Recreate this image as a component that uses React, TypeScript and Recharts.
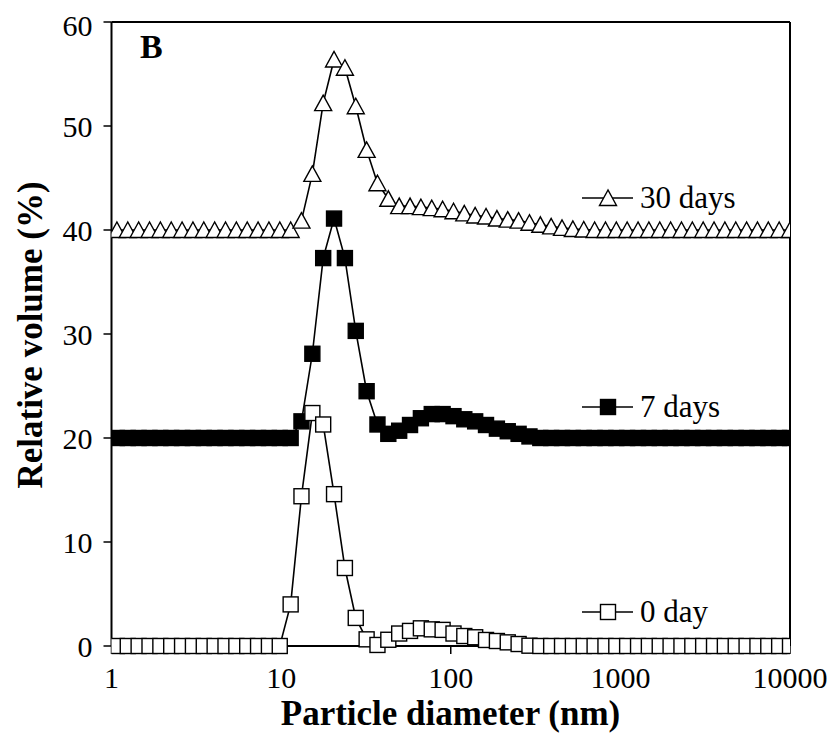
import { LineChart, Line, XAxis, YAxis, ReferenceLine } from 'recharts'

// particle size classes (nm), log spaced
const diameters = [
  1.076, 1.247, 1.445, 1.675, 1.941, 2.249, 2.606, 3.02, 3.499, 4.055,
  4.699, 5.445, 6.31, 7.311, 8.472, 9.817, 11.38, 13.18, 15.28, 17.7,
  20.51, 23.77, 27.54, 31.92, 36.98, 42.85, 49.66, 57.54, 66.68, 77.27,
  89.54, 103.8, 120.2, 139.3, 161.4, 187.1, 216.8, 251.2, 291.1, 337.3,
  390.8, 452.9, 524.8, 608.1, 704.7, 816.6, 946.2, 1096, 1271, 1472,
  1706, 1977, 2291, 2655, 3076, 3565, 4130, 4786, 5546, 6427,
  7447, 8630, 10000,
]

// relative volume (%), series offset by +20 / +40 as in the figure
const day0 = [
  0, 0, 0, 0, 0, 0, 0, 0, 0, 0,
  0, 0, 0, 0, 0, 0, 4.0, 14.4, 22.4, 21.3,
  14.6, 7.5, 2.7, 0.64, 0.1, 0.6, 1.2, 1.45, 1.7, 1.6,
  1.55, 1.2, 0.96, 0.84, 0.58, 0.48, 0.35, 0.19, 0.03, 0,
  0, 0, 0, 0, 0, 0, 0, 0, 0, 0,
  0, 0, 0, 0, 0, 0, 0, 0, 0, 0,
  0, 0, 0,
]

const day7 = [
  20, 20, 20, 20, 20, 20, 20, 20, 20, 20,
  20, 20, 20, 20, 20, 20, 20, 21.6, 28.1, 37.3,
  41.1, 37.3, 30.3, 24.5, 21.3, 20.4, 20.7, 21.25, 21.9, 22.3,
  22.3, 22.1, 21.8, 21.6, 21.25, 20.9, 20.65, 20.4, 20.15, 20,
  20, 20, 20, 20, 20, 20, 20, 20, 20, 20,
  20, 20, 20, 20, 20, 20, 20, 20, 20, 20,
  20, 20, 20,
]

const day30 = [
  40, 40, 40, 40, 40, 40, 40, 40, 40, 40,
  40, 40, 40, 40, 40, 40, 40, 40.9, 45.4, 52.2,
  56.4, 55.6, 51.9, 47.7, 44.5, 43.0, 42.3, 42.3, 42.2, 42.1,
  42.0, 41.8, 41.6, 41.4, 41.3, 41.1, 41.0, 40.9, 40.7, 40.5,
  40.35, 40.2, 40.1, 40.05, 40, 40, 40, 40, 40, 40,
  40, 40, 40, 40, 40, 40, 40, 40, 40, 40,
  40, 40, 40,
]

const xTicks = [1, 10, 100, 1000, 10000]
const yTicks = [0, 10, 20, 30, 40, 50, 60]

const data = diameters.map((d, i) => ({
  d,
  day0: day0[i],
  day7: day7[i],
  day30: day30[i],
}))

const FONT = '"Liberation Serif", "Times New Roman", serif'
const S = 7.5

function square(cx: number, cy: number, fill: string, key?: any) {
  return (
    <rect key={key} x={cx - S} y={cy - S} width={S * 2} height={S * 2}
      fill={fill} stroke="#000" strokeWidth={1.4} />
  )
}

function triangle(cx: number, cy: number, key?: any) {
  const pts = `${cx},${cy - 8} ${cx - 8.5},${cy + 7.5} ${cx + 8.5},${cy + 7.5}`
  return <polygon key={key} points={pts} fill="#fff" stroke="#000" strokeWidth={1.4} />
}

const openSquareDot = (p: any) => square(p.cx, p.cy, '#fff', p.index)
const filledSquareDot = (p: any) => square(p.cx, p.cy, '#000', p.index)
const triangleDot = (p: any) => triangle(p.cx, p.cy, p.index)

const legendItems = [
  { name: '30 days', y: 190, marker: (x: number, y: number) => triangle(x, y) },
  { name: '7 days', y: 399, marker: (x: number, y: number) => square(x, y, '#000') },
  { name: '0 day', y: 604, marker: (x: number, y: number) => square(x, y, '#fff') },
]

export default function App() {
  return (
    <div style={{ position: 'relative', width: 820, height: 730 }}>
      <LineChart width={820} height={722} data={data}
        margin={{ top: 14, right: 38, left: 0, bottom: 0 }}>
        <XAxis dataKey="d" type="number" scale="log" domain={[1, 10000]}
          ticks={xTicks} allowDataOverflow height={84}
          axisLine={{ stroke: '#000', strokeWidth: 2 }}
          tickLine={{ stroke: '#000', strokeWidth: 1.5 }} tickSize={8} tickMargin={13}
          tick={{ fill: '#000', fontSize: 30, fontFamily: FONT }} />
        <YAxis type="number" domain={[0, 60]} ticks={yTicks} width={103.5}
          axisLine={{ stroke: '#000', strokeWidth: 2 }}
          tickLine={{ stroke: '#000', strokeWidth: 1.5 }} tickSize={8} tickMargin={11}
          tick={{ fill: '#000', fontSize: 30, fontFamily: FONT }} />
        <ReferenceLine y={60} stroke="#000" strokeWidth={2} />
        <ReferenceLine x={10000} stroke="#000" strokeWidth={2} />
        <Line dataKey="day30" name="30 days" stroke="#000" strokeWidth={1.6}
          dot={triangleDot} isAnimationActive={false} />
        <Line dataKey="day7" name="7 days" stroke="#000" strokeWidth={1.6}
          dot={filledSquareDot} isAnimationActive={false} />
        <Line dataKey="day0" name="0 day" stroke="#000" strokeWidth={1.6}
          dot={openSquareDot} isAnimationActive={false} />
      </LineChart>
      <svg width={820} height={730}
        style={{ position: 'absolute', left: 0, top: 0, pointerEvents: 'none' }}>
        {legendItems.map((it) => (
          <g key={it.name}>
            <line x1={574} x2={625} y1={it.y} y2={it.y} stroke="#000" strokeWidth={1.6} />
            {it.marker(600, it.y)}
            <text x={632} y={it.y + 10} fontSize={31} fontFamily={FONT} fill="#000">{it.name}</text>
          </g>
        ))}
        <text x={132} y={50} fontSize={34} fontWeight="bold" fontFamily={FONT} fill="#000">B</text>
        <text x={442.5} y={717} fontSize={35} fontWeight="bold" fontFamily={FONT}
          textAnchor="middle" fill="#000">Particle diameter (nm)</text>
        <text transform="translate(34,327) rotate(-90)" fontSize={35} fontWeight="bold"
          fontFamily={FONT} textAnchor="middle" fill="#000">Relative volume (%)</text>
      </svg>
    </div>
  )
}
